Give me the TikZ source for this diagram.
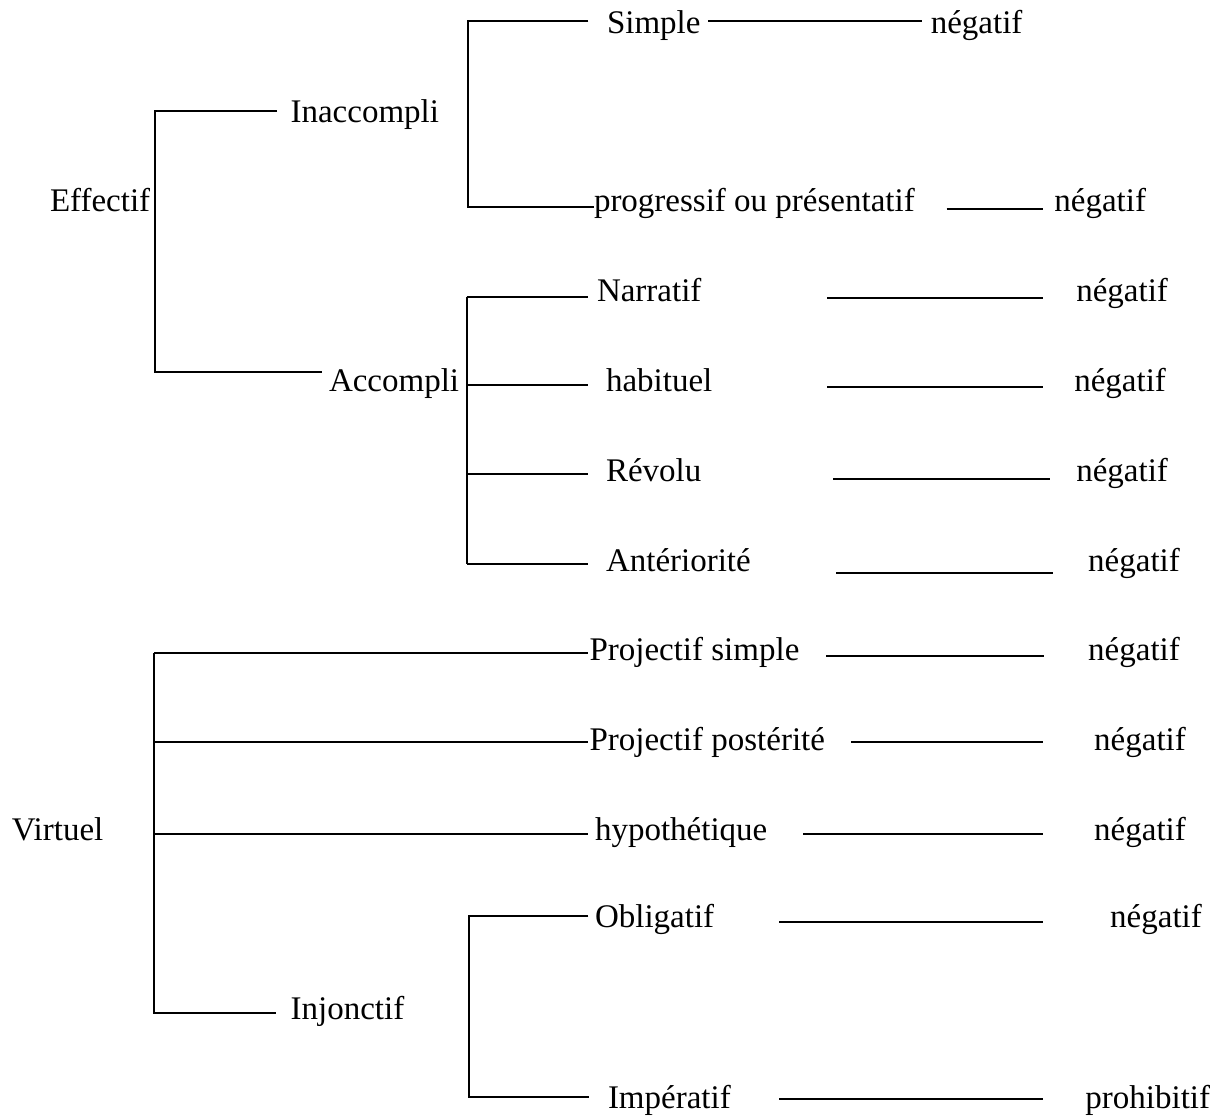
\documentclass[tikz,border=0pt]{standalone}
\usepackage{fontspec}
\setmainfont{Liberation Serif}

\tikzset{every picture/.style={line width=1pt}}
\tikzset{lbl/.style={anchor=base west, inner sep=0pt, outer sep=0pt, font=\fontsize{16.5}{20}\selectfont}}

\begin{document}
\begin{tikzpicture}[x=0.5pt,y=0.5pt,yscale=-1,xscale=1]
	\useasboundingbox [fill=white] (0,0) rectangle (1225,1117);

	% labels
	\node [lbl] (effectif) at (50,211.7) {Effectif};
	\node [lbl] (inaccompli) at (290.6,122.7) {Inaccompli};
	\node [lbl] (accompli) at (329,391.7) {Accompli};
	\node [lbl] (simple) at (607,33.3) {Simple};
	\node [lbl] (neg1) at (930.8,33.3) {négatif};
	\node [lbl] (progressif) at (594,211.7) {progressif ou présentatif};
	\node [lbl] (neg2) at (1054.4,211.7) {négatif};
	\node [lbl] (narratif) at (597,301.7) {Narratif};
	\node [lbl] (neg3) at (1076.3,301.7) {négatif};
	\node [lbl] (habituel) at (606,391.7) {habituel};
	\node [lbl] (neg4) at (1074.3,391.7) {négatif};
	\node [lbl] (revolu) at (606,481.7) {Révolu};
	\node [lbl] (neg5) at (1076.3,481.7) {négatif};
	\node [lbl] (anteriorite) at (606,571.7) {Antériorité};
	\node [lbl] (neg6) at (1088.2,571.7) {négatif};

	\node [lbl] (virtuel) at (11.9,840) {Virtuel};
	\node [lbl] (projsimple) at (589.5,660) {Projectif simple};
	\node [lbl] (neg7) at (1088.2,660) {négatif};
	\node [lbl] (projpost) at (589.5,750) {Projectif postérité};
	\node [lbl] (neg8) at (1094.2,750) {négatif};
	\node [lbl] (hypothetique) at (595,840) {hypothétique};
	\node [lbl] (neg9) at (1094.2,840) {négatif};
	\node [lbl] (injonctif) at (290.6,1019.3) {Injonctif};
	\node [lbl] (obligatif) at (595,927.7) {Obligatif};
	\node [lbl] (neg10) at (1110.2,927.7) {négatif};
	\node [lbl] (imperatif) at (608,1108.3) {Impératif};
	\node [lbl] (prohibitif) at (1085.4,1108.3) {prohibitif};

	% brackets
	\coordinate (eff-top) at (155,111);
	\coordinate (eff-bot) at (155,372);
	\coordinate (eff-in) at (277,111);
	\coordinate (eff-ac) at (322,372);
	\draw (eff-in) -- (eff-top) -- (eff-bot) -- (eff-ac);

	\coordinate (ina-top) at (467.5,21);
	\coordinate (ina-bot) at (467.5,207);
	\draw (588.4,21) coordinate (ina-s) -- (ina-top) -- (ina-bot) -- (progressif.base west |- ina-bot);

	\coordinate (acc-top) at (466.6,297);
	\coordinate (acc-bot) at (466.6,564.3);
	\draw (acc-top) -- (acc-bot);
	\foreach \y [count=\i] in {297,384.5,474,564.3}
		\draw (466.6,\y) coordinate (acc\i a) -- (588.4,\y) coordinate (acc\i b);

	\coordinate (vir-top) at (154,653.3);
	\coordinate (vir-bot) at (154,1012.7);
	\draw (vir-top) -- (vir-bot) -- (275.6,1012.7) coordinate (vir-inj);
	\foreach \y [count=\i] in {653.3,741.7,834.3}
		\draw (154,\y) coordinate (vir\i a) -- (588.4,\y) coordinate (vir\i b);

	\coordinate (inj-top) at (469.4,915.7);
	\coordinate (inj-bot) at (469.4,1096.7);
	\draw (588.4,915.7) coordinate (inj-ob) -- (inj-top) -- (inj-bot) -- (589.2,1096.7) coordinate (inj-im);

	% dashes to the negative forms
	\foreach \xa/\xb/\y [count=\i] in {708.4/922/21, 946.7/1043.2/209, 827.2/1043.2/297.7,
		827.2/1043.2/386.7, 833.2/1050.4/479.3, 836/1053.2/573.3, 826.4/1043.6/656,
		851/1043.2/742.3, 803.3/1043.2/834.3, 779.4/1043.2/921.7, 779.4/1043.2/1099}
	{
		\coordinate (d\i a) at (\xa,\y);
		\coordinate (d\i b) at (\xb,\y);
		\draw (d\i a) -- (d\i b);
	}

\end{tikzpicture}
\end{document}
